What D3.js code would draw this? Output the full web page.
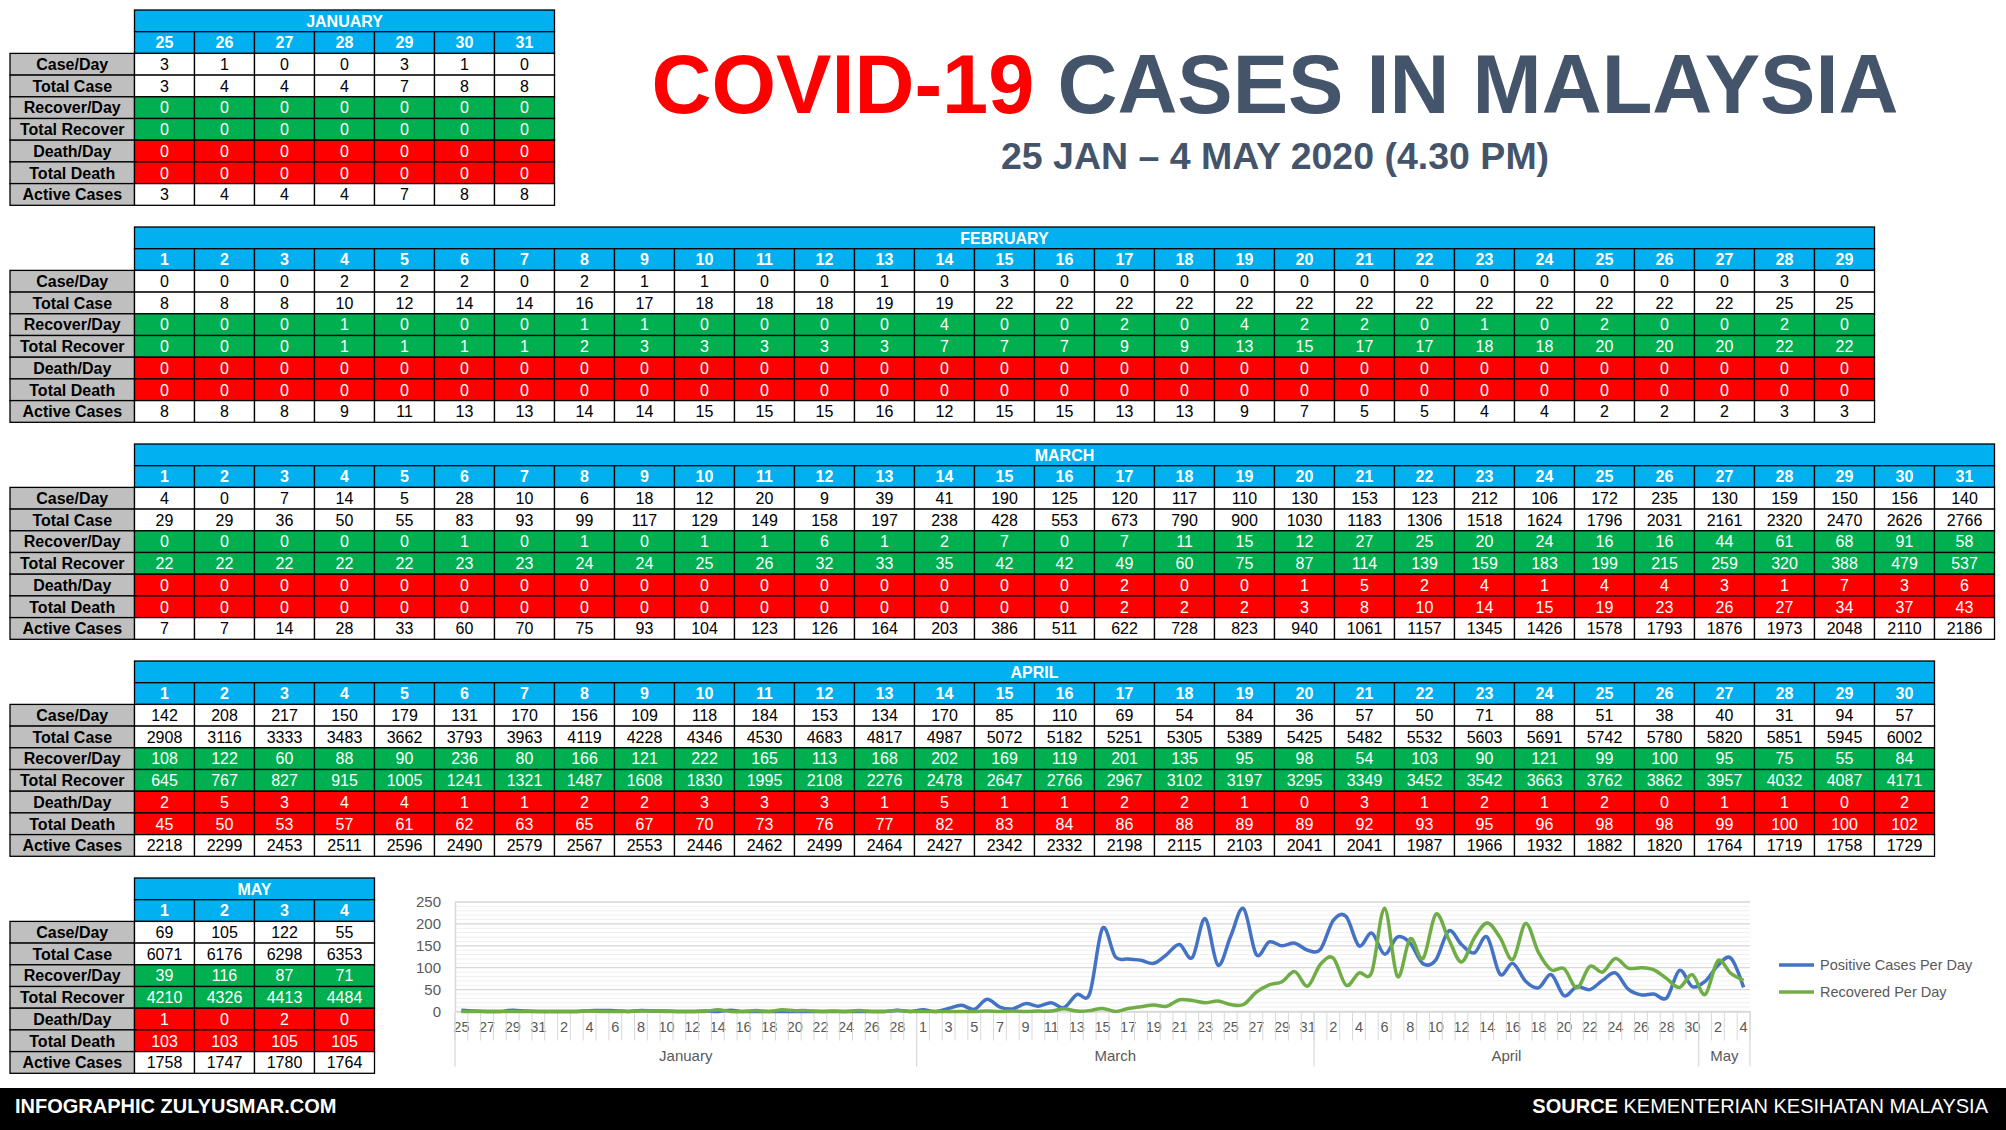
<!DOCTYPE html>
<html>
<head>
<meta charset="utf-8">
<script src="https://cdn.jsdelivr.net/npm/d3@7"></script>
<style>
  body { margin: 0; background: #fff; }
  svg { display: block; font-family: "Liberation Sans", Arial, sans-serif; }
</style>
</head>
<body>
<script>
var rowLabels = ["Case/Day", "Total Case", "Recover/Day", "Total Recover", "Death/Day", "Total Death", "Active Cases"];

var janDays = [25, 26, 27, 28, 29, 30, 31];
var janRows = [
  [3, 1, 0, 0, 3, 1, 0],
  [3, 4, 4, 4, 7, 8, 8],
  [0, 0, 0, 0, 0, 0, 0],
  [0, 0, 0, 0, 0, 0, 0],
  [0, 0, 0, 0, 0, 0, 0],
  [0, 0, 0, 0, 0, 0, 0],
  [3, 4, 4, 4, 7, 8, 8]
];

var febDays = [1, 2, 3, 4, 5, 6, 7, 8, 9, 10, 11, 12, 13, 14, 15, 16, 17, 18, 19, 20, 21, 22, 23, 24, 25, 26, 27, 28, 29];
var febRows = [
  [0, 0, 0, 2, 2, 2, 0, 2, 1, 1, 0, 0, 1, 0, 3, 0, 0, 0, 0, 0, 0, 0, 0, 0, 0, 0, 0, 3, 0],
  [8, 8, 8, 10, 12, 14, 14, 16, 17, 18, 18, 18, 19, 19, 22, 22, 22, 22, 22, 22, 22, 22, 22, 22, 22, 22, 22, 25, 25],
  [0, 0, 0, 1, 0, 0, 0, 1, 1, 0, 0, 0, 0, 4, 0, 0, 2, 0, 4, 2, 2, 0, 1, 0, 2, 0, 0, 2, 0],
  [0, 0, 0, 1, 1, 1, 1, 2, 3, 3, 3, 3, 3, 7, 7, 7, 9, 9, 13, 15, 17, 17, 18, 18, 20, 20, 20, 22, 22],
  [0, 0, 0, 0, 0, 0, 0, 0, 0, 0, 0, 0, 0, 0, 0, 0, 0, 0, 0, 0, 0, 0, 0, 0, 0, 0, 0, 0, 0],
  [0, 0, 0, 0, 0, 0, 0, 0, 0, 0, 0, 0, 0, 0, 0, 0, 0, 0, 0, 0, 0, 0, 0, 0, 0, 0, 0, 0, 0],
  [8, 8, 8, 9, 11, 13, 13, 14, 14, 15, 15, 15, 16, 12, 15, 15, 13, 13, 9, 7, 5, 5, 4, 4, 2, 2, 2, 3, 3]
];

var marDays = [1, 2, 3, 4, 5, 6, 7, 8, 9, 10, 11, 12, 13, 14, 15, 16, 17, 18, 19, 20, 21, 22, 23, 24, 25, 26, 27, 28, 29, 30, 31];
var marRows = [
  [4, 0, 7, 14, 5, 28, 10, 6, 18, 12, 20, 9, 39, 41, 190, 125, 120, 117, 110, 130, 153, 123, 212, 106, 172, 235, 130, 159, 150, 156, 140],
  [29, 29, 36, 50, 55, 83, 93, 99, 117, 129, 149, 158, 197, 238, 428, 553, 673, 790, 900, 1030, 1183, 1306, 1518, 1624, 1796, 2031, 2161, 2320, 2470, 2626, 2766],
  [0, 0, 0, 0, 0, 1, 0, 1, 0, 1, 1, 6, 1, 2, 7, 0, 7, 11, 15, 12, 27, 25, 20, 24, 16, 16, 44, 61, 68, 91, 58],
  [22, 22, 22, 22, 22, 23, 23, 24, 24, 25, 26, 32, 33, 35, 42, 42, 49, 60, 75, 87, 114, 139, 159, 183, 199, 215, 259, 320, 388, 479, 537],
  [0, 0, 0, 0, 0, 0, 0, 0, 0, 0, 0, 0, 0, 0, 0, 0, 2, 0, 0, 1, 5, 2, 4, 1, 4, 4, 3, 1, 7, 3, 6],
  [0, 0, 0, 0, 0, 0, 0, 0, 0, 0, 0, 0, 0, 0, 0, 0, 2, 2, 2, 3, 8, 10, 14, 15, 19, 23, 26, 27, 34, 37, 43],
  [7, 7, 14, 28, 33, 60, 70, 75, 93, 104, 123, 126, 164, 203, 386, 511, 622, 728, 823, 940, 1061, 1157, 1345, 1426, 1578, 1793, 1876, 1973, 2048, 2110, 2186]
];

var aprDays = [1, 2, 3, 4, 5, 6, 7, 8, 9, 10, 11, 12, 13, 14, 15, 16, 17, 18, 19, 20, 21, 22, 23, 24, 25, 26, 27, 28, 29, 30];
var aprRows = [
  [142, 208, 217, 150, 179, 131, 170, 156, 109, 118, 184, 153, 134, 170, 85, 110, 69, 54, 84, 36, 57, 50, 71, 88, 51, 38, 40, 31, 94, 57],
  [2908, 3116, 3333, 3483, 3662, 3793, 3963, 4119, 4228, 4346, 4530, 4683, 4817, 4987, 5072, 5182, 5251, 5305, 5389, 5425, 5482, 5532, 5603, 5691, 5742, 5780, 5820, 5851, 5945, 6002],
  [108, 122, 60, 88, 90, 236, 80, 166, 121, 222, 165, 113, 168, 202, 169, 119, 201, 135, 95, 98, 54, 103, 90, 121, 99, 100, 95, 75, 55, 84],
  [645, 767, 827, 915, 1005, 1241, 1321, 1487, 1608, 1830, 1995, 2108, 2276, 2478, 2647, 2766, 2967, 3102, 3197, 3295, 3349, 3452, 3542, 3663, 3762, 3862, 3957, 4032, 4087, 4171],
  [2, 5, 3, 4, 4, 1, 1, 2, 2, 3, 3, 3, 1, 5, 1, 1, 2, 2, 1, 0, 3, 1, 2, 1, 2, 0, 1, 1, 0, 2],
  [45, 50, 53, 57, 61, 62, 63, 65, 67, 70, 73, 76, 77, 82, 83, 84, 86, 88, 89, 89, 92, 93, 95, 96, 98, 98, 99, 100, 100, 102],
  [2218, 2299, 2453, 2511, 2596, 2490, 2579, 2567, 2553, 2446, 2462, 2499, 2464, 2427, 2342, 2332, 2198, 2115, 2103, 2041, 2041, 1987, 1966, 1932, 1882, 1820, 1764, 1719, 1758, 1729]
];

var mayDays = [1, 2, 3, 4];
var mayRows = [
  [69, 105, 122, 55],
  [6071, 6176, 6298, 6353],
  [39, 116, 87, 71],
  [4210, 4326, 4413, 4484],
  [1, 0, 2, 0],
  [103, 103, 105, 105],
  [1758, 1747, 1780, 1764]
];

var monthNames = ["JANUARY", "FEBRUARY", "MARCH", "APRIL", "MAY"];
// the chart's lower axis level: February has no label of its own
var chartGroupNames = ["January", "January", "March", "April", "May"];
var seriesNames = ["Positive Cases Per Day", "Recovered Per Day"];

// ---- layout ----
var width = 2006,
	height = 1130;

var labelX0 = 10, labelX1 = 134.5, colW = 60, rowH = 21.7, tableStep = 217;
var blue = "#00B0F0", green = "#00B050", red = "#FF0000", grey = "#BFBFBF";
var rowFill = ["#fff", "#fff", green, green, red, red, "#fff"];
var rowText = ["#000", "#000", "#fff", "#fff", "#fff", "#fff", "#000"];

var svg = d3.select("body").append("svg")
	.attr("width", width)
	.attr("height", height);

svg.append("rect").attr("width", width).attr("height", height).attr("fill", "#fff");

var tables = [
	{ name: monthNames[0], days: janDays, rows: janRows },
	{ name: monthNames[1], days: febDays, rows: febRows },
	{ name: monthNames[2], days: marDays, rows: marRows },
	{ name: monthNames[3], days: aprDays, rows: aprRows },
	{ name: monthNames[4], days: mayDays, rows: mayRows }
];

tables.forEach(function(t, ti){
	var top = 10 + ti * tableStep;
	var g = svg.append("g");

	var x = d3.scaleBand()
		.domain(t.days)
		.range([labelX1, labelX1 + t.days.length * colW]);
	var y = d3.scaleBand()
		.domain(d3.range(9))
		.range([top, top + 9 * rowH]);

	// month header
	g.append("rect")
		.attr("x", x.range()[0]).attr("y", y(0))
		.attr("width", x.range()[1] - x.range()[0]).attr("height", y.bandwidth())
		.attr("fill", blue).attr("stroke", "#000").attr("stroke-width", 1.3);
	g.append("text")
		.attr("x", (x.range()[0] + x.range()[1]) / 2)
		.attr("y", y(0) + rowH / 2 + 5.8)
		.attr("text-anchor", "middle")
		.attr("font-size", 16).attr("font-weight", "bold").attr("fill", "#fff")
		.text(t.name);

	// day numbers
	g.selectAll(".day")
		.data(t.days)
		.enter()
		.append("rect")
			.attr("class", "day")
			.attr("x", function(d){ return x(d); })
			.attr("y", y(1))
			.attr("width", x.bandwidth())
			.attr("height", y.bandwidth())
			.attr("fill", blue)
			.attr("stroke", "#000")
			.attr("stroke-width", 1.3);
	g.selectAll(".dayt")
		.data(t.days)
		.enter()
		.append("text")
			.attr("class", "dayt")
			.attr("x", function(d){ return x(d) + x.bandwidth() / 2; })
			.attr("y", y(1) + rowH / 2 + 5.8)
			.attr("text-anchor", "middle")
			.attr("font-size", 16).attr("font-weight", "bold").attr("fill", "#fff")
			.text(function(d){ return d; });

	// row labels
	g.selectAll(".lab")
		.data(rowLabels)
		.enter()
		.append("rect")
			.attr("class", "lab")
			.attr("x", labelX0)
			.attr("y", function(d, i){ return y(i + 2); })
			.attr("width", labelX1 - labelX0)
			.attr("height", y.bandwidth())
			.attr("fill", grey)
			.attr("stroke", "#000")
			.attr("stroke-width", 1.3);
	g.selectAll(".labt")
		.data(rowLabels)
		.enter()
		.append("text")
			.attr("class", "labt")
			.attr("x", (labelX0 + labelX1) / 2)
			.attr("y", function(d, i){ return y(i + 2) + rowH / 2 + 5.8; })
			.attr("text-anchor", "middle")
			.attr("font-size", 16).attr("font-weight", "bold").attr("fill", "#000")
			.text(function(d){ return d; });

	// data cells
	var cells = [];
	t.rows.forEach(function(r, ri){
		r.forEach(function(v, ci){
			cells.push({ row: ri, day: t.days[ci], value: v });
		});
	});

	g.selectAll(".cell")
		.data(cells)
		.enter()
		.append("rect")
			.attr("class", "cell")
			.attr("x", function(d){ return x(d.day); })
			.attr("y", function(d){ return y(d.row + 2); })
			.attr("width", x.bandwidth())
			.attr("height", y.bandwidth())
			.attr("fill", function(d){ return rowFill[d.row]; })
			.attr("stroke", "#000")
			.attr("stroke-width", 1.3);
	g.selectAll(".cellt")
		.data(cells)
		.enter()
		.append("text")
			.attr("class", "cellt")
			.attr("x", function(d){ return x(d.day) + x.bandwidth() / 2; })
			.attr("y", function(d){ return y(d.row + 2) + rowH / 2 + 5.8; })
			.attr("text-anchor", "middle")
			.attr("font-size", 16)
			.attr("fill", function(d){ return rowText[d.row]; })
			.text(function(d){ return d.value; });
});

// ---- title ----
var title = svg.append("text")
	.attr("x", 1275).attr("y", 113)
	.attr("text-anchor", "middle")
	.attr("font-size", 83).attr("font-weight", "bold");
title.append("tspan").attr("fill", "#FF0000").text("COVID-19 ");
title.append("tspan").attr("fill", "#44546A").text("CASES IN MALAYSIA");

svg.append("text")
	.attr("x", 1275).attr("y", 169)
	.attr("text-anchor", "middle")
	.attr("font-size", 37.5).attr("font-weight", "bold").attr("fill", "#44546A")
	.text("25 JAN \u2013 4 MAY 2020 (4.30 PM)");

// ---- line chart ----
var chartDays = [].concat(janDays, febDays, marDays, aprDays, mayDays);
var chartCases = [].concat(janRows[0], febRows[0], marRows[0], aprRows[0], mayRows[0]);
var chartRecovered = [].concat(janRows[2], febRows[2], marRows[2], aprRows[2], mayRows[2]);

var plotL = 455, plotR = 1750, plotB = 1011.5, plotT = 902;

var xScale = d3.scaleBand()
	.domain(d3.range(chartDays.length))
	.range([plotL, plotR]);
var bw = xScale.bandwidth();

var yScale = d3.scaleLinear()
	.domain([0, 250])
	.range([plotB, plotT]);

var chart = svg.append("g");

// minor and major gridlines
chart.selectAll(".minor")
	.data(d3.range(0, 251, 10))
	.enter()
	.append("line")
		.attr("x1", plotL).attr("x2", plotR)
		.attr("y1", function(d){ return yScale(d); })
		.attr("y2", function(d){ return yScale(d); })
		.attr("stroke", "#F0F0F0")
		.attr("stroke-width", 1);
chart.selectAll(".major")
	.data(yScale.ticks(5))
	.enter()
	.append("line")
		.attr("x1", plotL).attr("x2", plotR)
		.attr("y1", function(d){ return yScale(d); })
		.attr("y2", function(d){ return yScale(d); })
		.attr("stroke", "#D9D9D9")
		.attr("stroke-width", 1.3);

// y axis
var yAxis = chart.append("g")
	.attr("transform", "translate(" + plotL + ",0)")
	.call(d3.axisLeft(yScale).ticks(5).tickSize(0).tickPadding(14));
yAxis.select(".domain").attr("stroke", "#D9D9D9").attr("stroke-width", 1.5);
yAxis.selectAll("text")
	.attr("font-family", "'Liberation Sans', Arial, sans-serif")
	.attr("font-size", 15).attr("fill", "#595959");

// x axis: day labels on every other category
var xAxis = chart.append("g")
	.attr("transform", "translate(0," + plotB + ")")
	.call(d3.axisBottom(xScale)
		.tickValues(d3.range(0, chartDays.length, 2))
		.tickFormat(function(i){ return chartDays[i]; })
		.tickSize(0)
		.tickPadding(10));
xAxis.select(".domain").attr("stroke", "#D9D9D9").attr("stroke-width", 1.5);
xAxis.selectAll("text")
	.attr("font-family", "'Liberation Sans', Arial, sans-serif")
	.attr("font-size", 14.5).attr("fill", "#595959");

// category separators
chart.selectAll(".sep")
	.data(d3.range(chartDays.length + 1))
	.enter()
	.append("line")
		.attr("x1", function(i){ return plotL + i * bw; })
		.attr("x2", function(i){ return plotL + i * bw; })
		.attr("y1", plotB)
		.attr("y2", plotB + 29)
		.attr("stroke", "#D9D9D9")
		.attr("stroke-width", 1);

// month groups on the lower axis level
var groups = [];
var start = 0;
tables.forEach(function(t, ti){
	var name = chartGroupNames[ti];
	if (groups.length && groups[groups.length - 1].name == name){
		groups[groups.length - 1].end += t.days.length;
	}
	else{
		groups.push({ name: name, start: start, end: start + t.days.length });
	}
	start += t.days.length;
});

var bounds = [0].concat(groups.map(function(g){ return g.end; }));
chart.selectAll(".gsep")
	.data(bounds)
	.enter()
	.append("line")
		.attr("x1", function(i){ return plotL + i * bw; })
		.attr("x2", function(i){ return plotL + i * bw; })
		.attr("y1", plotB)
		.attr("y2", plotB + 55)
		.attr("stroke", "#D9D9D9")
		.attr("stroke-width", 1.2);

chart.selectAll(".glab")
	.data(groups)
	.enter()
	.append("text")
		.attr("x", function(g){ return plotL + (g.start + g.end) / 2 * bw; })
		.attr("y", plotB + 49)
		.attr("text-anchor", "middle")
		.attr("font-size", 15)
		.attr("fill", "#595959")
		.text(function(g){ return g.name; });

// smoothed series lines
var line = d3.line()
	.x(function(d, i){ return xScale(i) + bw / 2; })
	.y(function(d){ return yScale(d); })
	.curve(d3.curveCardinal.tension(0));

var seriesColors = ["#4472C4", "#70AD47"];
[chartCases, chartRecovered].forEach(function(s, si){
	chart.append("path")
		.datum(s)
		.attr("d", line)
		.attr("fill", "none")
		.attr("stroke", seriesColors[si])
		.attr("stroke-width", 3.5)
		.attr("stroke-linejoin", "round");
});

// legend
var legend = chart.selectAll(".leg")
	.data(seriesNames)
	.enter()
	.append("g")
		.attr("transform", function(d, i){ return "translate(1779," + (965 + i * 27) + ")"; });
legend.append("line")
	.attr("x1", 0).attr("x2", 35)
	.attr("stroke", function(d, i){ return seriesColors[i]; })
	.attr("stroke-width", 3.5);
legend.append("text")
	.attr("x", 41).attr("y", 5)
	.attr("font-size", 14.5)
	.attr("fill", "#595959")
	.text(function(d){ return d; });

// ---- footer ----
svg.append("rect")
	.attr("x", 0).attr("y", 1088)
	.attr("width", width).attr("height", height - 1088)
	.attr("fill", "#000");
svg.append("text")
	.attr("x", 15).attr("y", 1113)
	.attr("font-size", 20).attr("font-weight", "bold").attr("fill", "#fff")
	.text("INFOGRAPHIC ZULYUSMAR.COM");
var src = svg.append("text")
	.attr("x", 1988).attr("y", 1113)
	.attr("text-anchor", "end")
	.attr("font-size", 20).attr("fill", "#fff");
src.append("tspan").attr("font-weight", "bold").text("SOURCE ");
src.append("tspan").text("KEMENTERIAN KESIHATAN MALAYSIA");
</script>
</body>
</html>
